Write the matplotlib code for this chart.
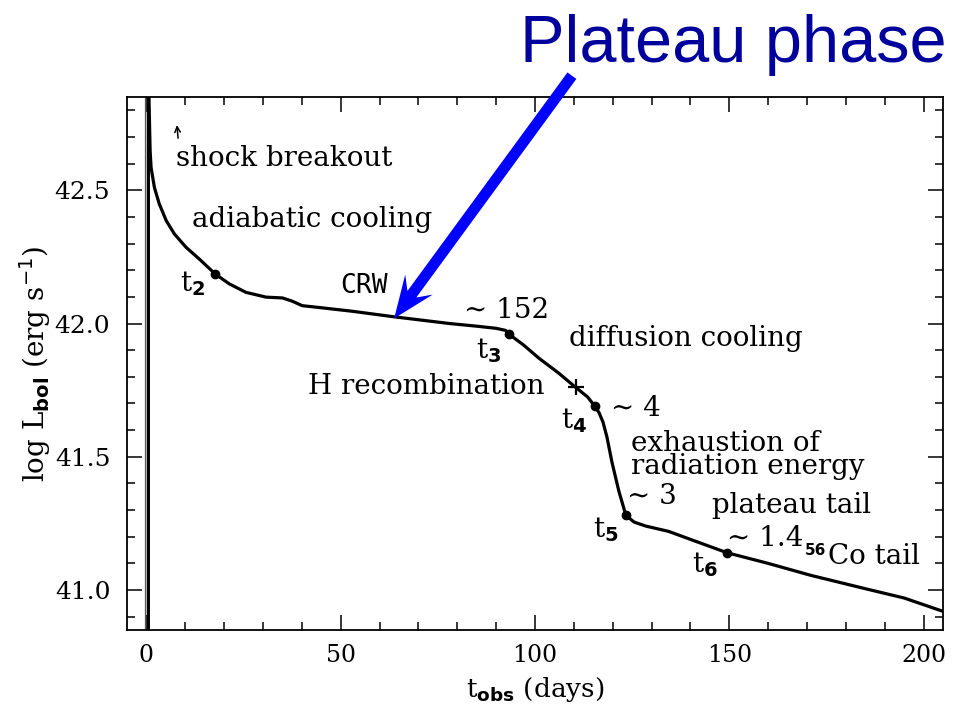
import numpy as np
import matplotlib.pyplot as plt
from matplotlib.ticker import MultipleLocator
from matplotlib.patches import Polygon
from matplotlib.transforms import IdentityTransform

# Courbe de lumière bolométrique (log L en fonction du temps)
t_days = [0.5, 0.5, 0.95, 1.2, 2.06, 3.3, 5.1, 7.2, 10.2, 13.6, 17.7, 21.3,
          25.6, 30.8, 35.0, 37.5, 40.1, 44.5, 53.0, 63.3, 78.0, 85.0, 90.0,
          92.5, 93.3, 97.0, 101.0, 106.0, 110.5, 113.5, 115.4, 116.5, 117.5,
          118.5, 119.8, 121.6, 123.4, 125.5, 128.5, 134.4, 140.0, 149.4,
          160.0, 171.0, 185.0, 195.0, 205.0]
log_L = [40.80, 42.95, 42.648, 42.585, 42.51, 42.449, 42.386, 42.336, 42.286,
         42.242, 42.186, 42.149, 42.117, 42.099, 42.096, 42.084, 42.067,
         42.060, 42.046, 42.026, 42.00, 41.99, 41.982, 41.974, 41.96, 41.92,
         41.87, 41.815, 41.76, 41.725, 41.69, 41.665, 41.63, 41.575, 41.48,
         41.37, 41.28, 41.255, 41.24, 41.22, 41.19, 41.14, 41.10, 41.055,
         41.005, 40.97, 40.92]

# Instants caractéristiques t2..t6
t_marks = [17.7, 93.3, 115.4, 123.4, 149.4]
L_marks = [42.186, 41.96, 41.69, 41.28, 41.14]
t_plus, L_plus = 110.5, 41.76

fig = plt.figure(figsize=(9.65, 7.08), dpi=100)
ax = fig.add_axes([127/965, 1-630/708, (943-127)/965, (630-97)/708])

ax.axvline(-0.3, color="0.35", lw=0.9)
ax.plot(t_days, log_L, color="black", lw=2.3, solid_joinstyle="round")
ax.plot(t_marks, L_marks, "o", color="black", ms=6)
ax.plot(t_plus, L_plus, "+", color="black", ms=12, mew=1.6)

ax.set_xlim(-5, 205)
ax.set_ylim(40.85, 42.85)
ax.xaxis.set_major_locator(MultipleLocator(50))
ax.xaxis.set_minor_locator(MultipleLocator(10))
ax.yaxis.set_major_locator(MultipleLocator(0.5))
ax.yaxis.set_minor_locator(MultipleLocator(0.1))
ax.yaxis.set_major_formatter(plt.FormatStrFormatter("%.1f"))
ax.tick_params(which="both", direction="in", top=True, right=True, width=1.1)
ax.tick_params(which="major", length=11)
ax.tick_params(which="minor", length=6)
ax.tick_params(axis="y", which="major", labelsize=18, pad=12)
ax.tick_params(axis="x", which="major", labelsize=17, pad=10)
for lab in ax.get_xticklabels() + ax.get_yticklabels():
    lab.set_family("DejaVu Serif")
for s in ax.spines.values():
    s.set_linewidth(1.3)

serif = "DejaVu Serif"
ax.set_xlabel(r"t$_{\mathbf{obs}}$ (days)", fontsize=19, family=serif, labelpad=6)
ax.set_ylabel(r"log L$_{\mathbf{bol}}$ (erg s$^{-1}$)", fontsize=20, family=serif, labelpad=1)

# Annotations des phases
fs = 20
ax.annotate("", xy=(7.8, 42.755), xytext=(8.2, 42.685),
            arrowprops=dict(arrowstyle="->", lw=1.1, color="black"))
ax.text(7.7, 42.62, "shock breakout", fontsize=fs, family=serif, va="center")
ax.text(11.8, 42.39, "adiabatic cooling", fontsize=fs, family=serif, va="center")
ax.text(8.7, 42.15, r"t$_{\mathbf{2}}$", fontsize=fs, family=serif, va="center")
ax.text(49.9, 42.14, "CRW", fontsize=19, family="DejaVu Sans Mono", va="center")
ax.text(81.7, 42.05, "∼ 152", fontsize=fs, family=serif, va="center")
ax.text(84.8, 41.90, r"t$_{\mathbf{3}}$", fontsize=fs, family=serif, va="center")
ax.text(108.7, 41.944, "diffusion cooling", fontsize=fs, family=serif, va="center")
ax.text(41.6, 41.764, "H recombination", fontsize=fs, family=serif, va="center")
ax.text(106.7, 41.637, r"t$_{\mathbf{4}}$", fontsize=fs, family=serif, va="center")
ax.text(119.5, 41.68, "∼ 4", fontsize=fs, family=serif, va="center")
ax.text(124.7, 41.507, "exhaustion of\nradiation energy", fontsize=fs, family=serif,
        va="center", linespacing=0.82)
ax.text(123.7, 41.352, "∼ 3", fontsize=fs, family=serif, va="center")
ax.text(114.9, 41.225, r"t$_{\mathbf{5}}$", fontsize=fs, family=serif, va="center")
ax.text(145.5, 41.318, "plateau tail", fontsize=fs, family=serif, va="center")
ax.text(149.4, 41.195, "∼ 1.4", fontsize=fs, family=serif, va="center")
ax.text(169.4, 41.15, "56", fontsize=11, family="DejaVu Sans", weight="bold", va="center")
ax.text(175.5, 41.124, "Co tail", fontsize=fs, family=serif, va="center")
ax.text(140.4, 41.094, r"t$_{\mathbf{6}}$", fontsize=fs, family=serif, va="center")

# Flèche bleue (pointe à barbes) vers la phase plateau, en pixels
tip = ax.transData.transform((63.75, 42.019))
tail = ax.transData.transform((109.5, 42.93))
u = (tip - tail) / np.hypot(*(tip - tail))
n = np.array([-u[1], u[0]])
w, hw, head_len, notch = 5.5, 17.0, 42.0, 12.0
neck = tip - u * (head_len - notch)
barb = tip - u * head_len
pts = [tail + n*w, neck + n*w, barb + n*hw, tip, barb - n*hw, neck - n*w, tail - n*w]
fig.add_artist(Polygon(pts, closed=True, color="#0000FF", lw=0,
                       transform=IdentityTransform()))

fig.text(520/965, 1-62/708, "Plateau phase", fontsize=48, family="Liberation Sans",
         color="#00009C", ha="left", va="baseline")

fig.savefig("out.png", dpi=100)
